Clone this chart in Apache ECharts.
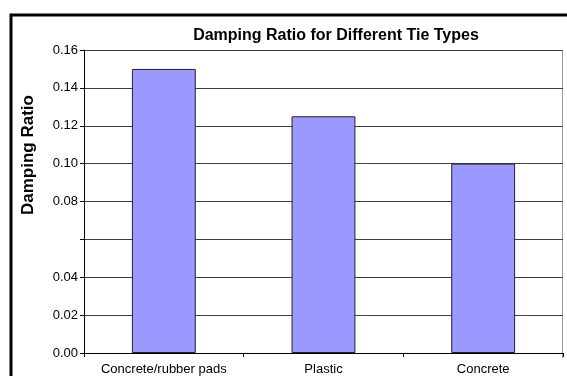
<!DOCTYPE html>
<html>
<head>
<meta charset="utf-8">
<script src="https://cdn.jsdelivr.net/npm/echarts@6/dist/echarts.min.js"></script>
<style>
  html, body { margin: 0; padding: 0; background: #fff; }
  #chart { width: 567px; height: 376px; }
</style>
</head>
<body>
<div id="chart"></div>
<script>
// Tie types and their measured damping ratios
const categories = ['Concrete/rubber pads', 'Plastic', 'Concrete'];
const dampingRatios = [0.15, 0.125, 0.10];

// Value axis scale and its printed labels (0.06 carries no label)
const yMin = 0;
const yMax = 0.16;
const yStep = 0.02;
const yTickLabels = ['0.00', '0.02', '0.04', '', '0.08', '0.10', '0.12', '0.14', '0.16'];

const chart = echarts.init(document.getElementById('chart'), null, { renderer: 'canvas' });

const font = 'Liberation Sans, Arial, sans-serif';

chart.setOption({
  animation: false,
  backgroundColor: '#fff',
  title: {
    text: 'Damping Ratio for Different Tie Types',
    left: 331,
    top: 23,
    textAlign: 'center',
    textStyle: { fontFamily: font, fontSize: 16, fontWeight: 'bold', color: '#000' }
  },
  grid: { left: 84, right: 4, top: 50, bottom: 18, containLabel: false },
  xAxis: {
    type: 'category',
    data: categories,
    boundaryGap: true,
    axisLine: { show: true, lineStyle: { color: '#000', width: 1 } },
    axisTick: { show: true, inside: false, length: 4, alignWithLabel: false, lineStyle: { color: '#000' } },
    axisLabel: { fontFamily: font, fontSize: 13, color: '#000', margin: 10, interval: 0 },
    splitLine: { show: false }
  },
  yAxis: {
    type: 'value',
    min: yMin,
    max: yMax,
    interval: yStep,
    axisLine: { show: true, lineStyle: { color: '#000', width: 1 } },
    axisTick: { show: true, inside: false, length: 4, lineStyle: { color: '#000' } },
    axisLabel: {
      fontFamily: font,
      fontSize: 13,
      color: '#000',
      margin: 6,
      formatter: function (v) {
        const i = Math.round((v - yMin) / yStep);
        return yTickLabels[i] !== undefined ? yTickLabels[i] : '';
      }
    },
    splitLine: { show: true, lineStyle: { color: '#404040', width: 1 } }
  },
  series: [{
    type: 'bar',
    data: dampingRatios,
    barWidth: '40%',
    itemStyle: { color: '#9999FF', borderColor: '#222', borderWidth: 1 }
  }],
  graphic: [
    // outer chart-area frame, running off the right and bottom edges
    {
      type: 'rect',
      shape: { x: 11, y: 15, width: 700, height: 500 },
      style: { fill: null, stroke: '#000', lineWidth: 3 },
      silent: true,
      z: 100
    },
    // right edge of the plot area
    {
      type: 'line',
      shape: { x1: 562.5, y1: 50, x2: 562.5, y2: 358 },
      style: { stroke: '#999', lineWidth: 1 },
      silent: true
    },
    // value-axis title
    {
      type: 'text',
      x: 28,
      y: 155,
      rotation: Math.PI / 2,
      style: {
        text: 'Damping Ratio',
        fontFamily: font,
        fontSize: 17,
        fontWeight: 'bold',
        fill: '#000',
        align: 'center',
        verticalAlign: 'middle'
      },
      silent: true
    }
  ]
});
</script>
</body>
</html>
